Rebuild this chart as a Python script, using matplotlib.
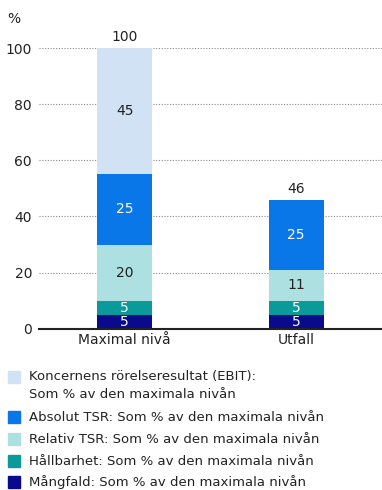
import matplotlib.pyplot as plt
from matplotlib.patches import Rectangle

categories = ["Maximal nivå", "Utfall"]
series_names = [
    "Mångfald: Som % av den maximala nivån",
    "Hållbarhet: Som % av den maximala nivån",
    "Relativ TSR: Som % av den maximala nivån",
    "Absolut TSR: Som % av den maximala nivån",
    "Koncernens rörelseresultat (EBIT):\nSom % av den maximala nivån",
]
mangfald = [5, 5]
hallbarhet = [5, 5]
relativ_tsr = [20, 11]
absolut_tsr = [25, 25]
ebit = [45, 0]
totals = [100, 46]
yticks = [0, 20, 40, 60, 80, 100]

colors = ["#0a0a8c", "#0a9a9a", "#ace0e1", "#0a77e8", "#d0e2f4"]
label_colors = ["white", "white", "#222222", "white", "#222222"]

plt.rcParams['font.family'] = ['DejaVu Sans']
fs = 10
leg_fs = 9.5

fig = plt.figure(figsize=(3.82, 4.90), dpi=100)
ax = fig.add_axes([0.102, 0.329, 0.898, 0.573])

x = [0, 1]
bottom = [0, 0]
for vals, col, tcol in zip([mangfald, hallbarhet, relativ_tsr, absolut_tsr, ebit], colors, label_colors):
    ax.bar(x, vals, bottom=bottom, width=0.32, color=col, zorder=2)
    for xi, v, b in zip(x, vals, bottom):
        if v > 0:
            ax.text(xi, b + v / 2, str(v), ha='center', va='center', color=tcol, fontsize=fs, zorder=3)
    bottom = [b + v for b, v in zip(bottom, vals)]

for xi, t in zip(x, totals):
    ax.text(xi, t + 1.3, str(t), ha='center', va='bottom', color='#222222', fontsize=fs)

ax.set_xlim(-0.5, 1.5)
ax.set_ylim(0, 100)
ax.set_yticks(yticks)
ax.set_xticks(x)
ax.set_xticklabels(categories)
for s in ax.spines.values():
    s.set_visible(False)
ax.grid(axis='y', linestyle=(0, (1, 1.5)), color='#888888', linewidth=0.8, zorder=0)
ax.axhline(0, color='#222222', linewidth=1.5, zorder=3, clip_on=False)
ax.tick_params(axis='both', length=0, labelsize=fs, colors='#222222', pad=3)
ax.tick_params(axis='y', pad=5)

fig.text(0.02, 0.962, "%", fontsize=fs, color='#222222', va='center')

# legend drawn by hand, top to bottom
leg_y = [377, 417, 439, 461, 482]
for name, col, y in zip(series_names[::-1], colors[::-1], leg_y):
    fig.patches.append(Rectangle((8 / 382, 1 - (y + 6) / 490), 12 / 382, 12 / 490,
                                 transform=fig.transFigure, color=col, figure=fig))
    if '\n' in name:
        fig.text(29 / 382, 1 - (y - 7) / 490, name, fontsize=leg_fs, color='#222222', va='top',
                 linespacing=1.45)
    else:
        fig.text(29 / 382, 1 - y / 490, name, fontsize=leg_fs, color='#222222', va='center')

fig.savefig("out.png", dpi=100)
